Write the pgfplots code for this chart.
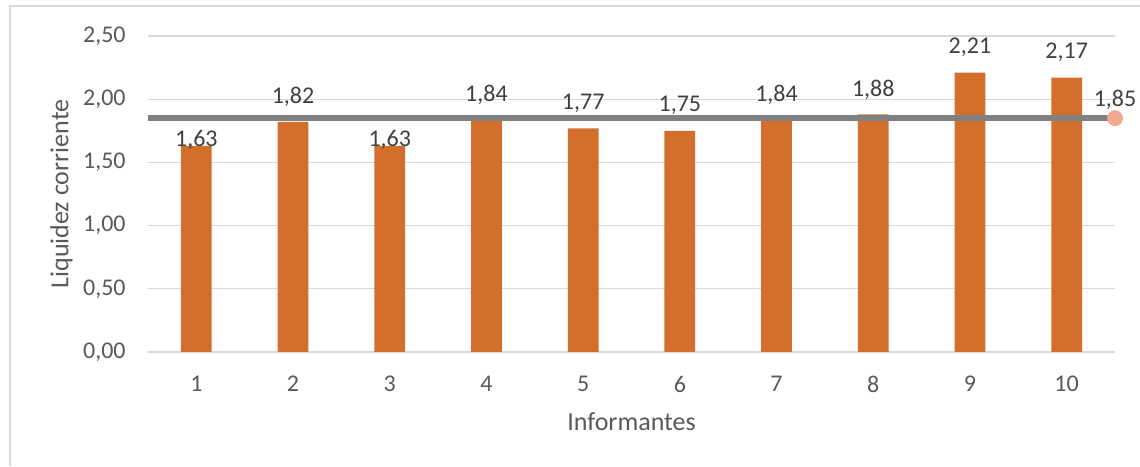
\documentclass[border=0pt]{standalone}
\usepackage{fontspec}
\setmainfont{Carlito}
\usepackage{pgfplots}
\usepackage{pgfplotstable}
\pgfplotsset{compat=1.18}
\definecolor{barc}{RGB}{211,110,44}
\definecolor{linec}{RGB}{128,128,128}
\definecolor{dotc}{RGB}{241,170,142}
\definecolor{gridc}{RGB}{217,217,217}
\definecolor{tickc}{RGB}{89,89,89}
\definecolor{labc}{RGB}{64,64,64}
\definecolor{framec}{RGB}{217,217,217}

\pgfplotstableread{
x y off
1 1.63 3
2 1.82 12.5
3 1.63 3
4 1.84 12.5
5 1.77 12.5
6 1.75 12.5
7 1.84 12.5
8 1.88 12.5
9 2.21 12.5
10 2.17 12.5
}\datatable

\begin{document}
\begin{tikzpicture}
\useasboundingbox (0,0) rectangle (570pt,233pt);
\draw[framec, line width=0.6pt] (5pt,0pt) -- (5pt,230pt) -- (570pt,230pt);
\begin{axis}[
  at={(74pt,57pt)}, anchor=south west,
  scale only axis, width=483.5pt, height=158pt,
  xmin=0.5, xmax=10.5, ymin=0, ymax=2.5,
  xtick={1,2,3,4,5,6,7,8,9,10},
  ytick={0,0.5,1,1.5,2,2.5},
  /pgf/number format/assume math mode=true,
  yticklabel={\pgfmathprintnumber[fixed,fixed zerofill,precision=2,use comma]{\tick}},
  axis line style={draw=none},
  major tick length=0pt,
  ymajorgrids,
  grid style={draw=gridc, line width=0.7pt},
  clip=false,
  tick label style={font=\fontsize{12}{14}\selectfont, text=tickc},
  yticklabel style={anchor=east, inner sep=0pt, xshift=-11pt},
  xticklabel style={anchor=center, inner sep=0pt, yshift=-16pt},
  xlabel={Informantes},
  ylabel={Liquidez corriente},
  xlabel style={at={([yshift=-35pt]axis description cs:0.5,0)}, anchor=center, inner sep=0pt, font=\fontsize{13}{15}\selectfont, text=tickc},
  ylabel style={at={([xshift=-43.25pt]axis description cs:0,0.5)}, anchor=center, rotate=0, inner sep=0pt, font=\fontsize{13}{15}\selectfont, text=tickc},
]
\addplot[ybar, bar width=0.318, fill=barc, draw=none,
  visualization depends on={\thisrow{off}\as\off},
  nodes near coords={\pgfmathprintnumber[fixed,fixed zerofill,precision=2,use comma]{\pgfplotspointmeta}},
  nodes near coords style={anchor=center, inner sep=0pt, yshift=\off pt, font=\fontsize{12}{14}\selectfont, text=labc}
] table[x=x, y=y] {\datatable};
\addplot[linec, line width=3.3pt, forget plot] coordinates {(0.5,1.85) (10.5,1.85)};
\addplot[only marks, mark=*, mark size=3.75pt, color=dotc, mark options={fill=dotc, draw=dotc},
  nodes near coords={\pgfmathprintnumber[fixed,fixed zerofill,precision=2,use comma]{\pgfplotspointmeta}},
  nodes near coords style={anchor=center, inner sep=0pt, yshift=9pt, font=\fontsize{12}{14}\selectfont, text=labc}
] coordinates {(10.5,1.85)};
\end{axis}
\end{tikzpicture}
\end{document}
